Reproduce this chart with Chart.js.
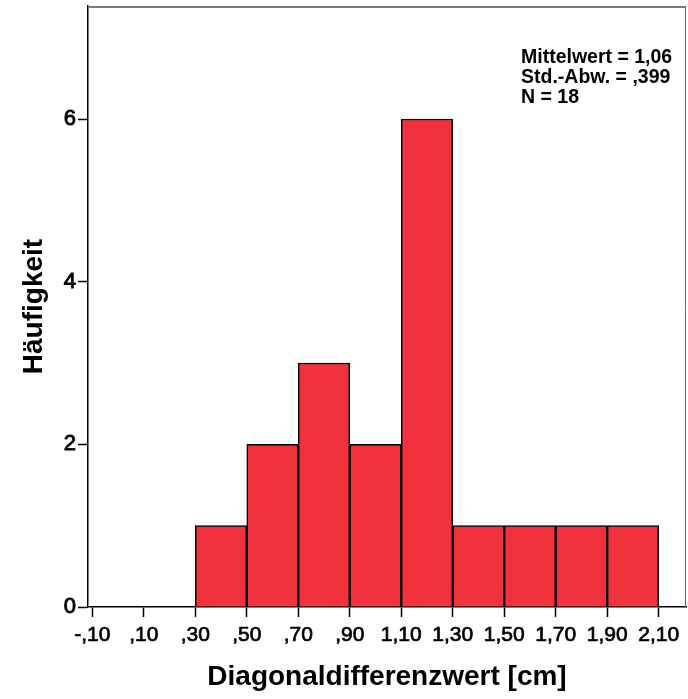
<!DOCTYPE html>
<html>
<head>
<meta charset="utf-8">
<script src="https://cdn.jsdelivr.net/npm/chart.js@4/dist/chart.umd.min.js"></script>
<style>
  html, body { margin: 0; padding: 0; background: #fff; }
  #wrap { width: 688px; height: 699px; }
</style>
</head>
<body>
<div id="wrap"><canvas id="chart" width="688" height="699"></canvas></div>
<script>
// histogram bins (lower edge) and counts
const binStarts = [0.3, 0.5, 0.7, 0.9, 1.1, 1.3, 1.5, 1.7, 1.9]
const binWidth = 0.2
const counts = [1, 2, 3, 2, 6, 1, 1, 1, 1]

const xTickValues = [-0.1, 0.1, 0.3, 0.5, 0.7, 0.9, 1.1, 1.3, 1.5, 1.7, 1.9, 2.1]
const xTickLabels = ["-,10", ",10", ",30", ",50", ",70", ",90", "1,10", "1,30", "1,50", "1,70", "1,90", "2,10"]
const yTickValues = [0, 2, 4, 6]

const statLines = ["Mittelwert = 1,06", "Std.-Abw. = ,399", "N = 18"]

const FONT = "'Liberation Sans', Arial, sans-serif"
const BAR_RED = "#f0323c"

const frame = {
  id: "frame",
  afterDatasetsDraw(chart) {
    const { ctx, chartArea: a } = chart
    ctx.save()
    // top and right edge of the plot box
    ctx.strokeStyle = "#7a7a7a"
    ctx.lineWidth = 2
    ctx.beginPath()
    ctx.moveTo(a.left, a.top + 1)
    ctx.lineTo(a.right, a.top + 1)
    ctx.stroke()
    ctx.strokeStyle = "#666"
    ctx.lineWidth = 1
    ctx.beginPath()
    ctx.moveTo(a.right - 0.5, a.top)
    ctx.lineTo(a.right - 0.5, a.bottom)
    ctx.stroke()

    // summary statistics
    ctx.fillStyle = "#000"
    ctx.font = "bold 19.5px " + FONT
    ctx.textAlign = "left"
    ctx.textBaseline = "alphabetic"
    statLines.forEach((t, i) => ctx.fillText(t, 521, 63 + i * 20))
    ctx.restore()
  }
}

const noPad = s => {
  s.paddingTop = 0
  s.paddingBottom = 0
  s.paddingLeft = 0
  s.paddingRight = 0
}

new Chart(document.getElementById("chart"), {
  type: "bar",
  data: {
    datasets: [{
      data: binStarts.map((s, i) => ({ x: s + binWidth / 2, y: counts[i] })),
      backgroundColor: BAR_RED,
      borderColor: "#000",
      borderWidth: 1.5,
      barPercentage: 1,
      categoryPercentage: 1
    }]
  },
  options: {
    responsive: false,
    animation: false,
    layout: { padding: { top: 6, right: 2, left: 0, bottom: 0 } },
    plugins: {
      legend: { display: false },
      tooltip: { enabled: false }
    },
    scales: {
      x: {
        type: "linear",
        offset: false,
        min: -0.1167,
        max: 2.206,
        afterBuildTicks: s => { s.ticks = xTickValues.map(v => ({ value: v })) },
        afterFit: s => { s.height = 92; noPad(s) },
        grid: {
          offset: false,
          drawOnChartArea: false,
          drawTicks: true,
          tickLength: 10,
          tickColor: "#000",
          tickWidth: 1.5
        },
        border: { display: true, color: "#000", width: 1.5 },
        ticks: {
          autoSkip: false,
          maxRotation: 0,
          padding: 6,
          color: "#000",
          textStrokeColor: "#000",
          textStrokeWidth: 0.7,
          font: { family: FONT, size: 21 },
          callback: (v, i) => xTickLabels[i]
        },
        title: {
          display: true,
          text: "Diagonaldifferenzwert [cm]",
          color: "#000",
          font: { family: FONT, size: 28, weight: "bold" },
          padding: { top: 0, bottom: 5 }
        }
      },
      y: {
        min: 0,
        max: 7.39,
        afterBuildTicks: s => { s.ticks = yTickValues.map(v => ({ value: v })) },
        afterFit: s => { s.width = 88; noPad(s) },
        grid: {
          drawOnChartArea: false,
          drawTicks: true,
          tickLength: 10,
          tickColor: "#000",
          tickWidth: 1.5
        },
        border: { display: true, color: "#000", width: 1.5 },
        ticks: {
          padding: 2,
          color: "#000",
          textStrokeColor: "#000",
          textStrokeWidth: 0.9,
          font: { family: FONT, size: 22 },
          callback: v => String(v)
        },
        title: {
          display: true,
          text: "Häufigkeit",
          color: "#000",
          font: { family: FONT, size: 28, weight: "bold" },
          padding: { top: 17, bottom: 0 }
        }
      }
    }
  },
  plugins: [frame]
})
</script>
</body>
</html>
